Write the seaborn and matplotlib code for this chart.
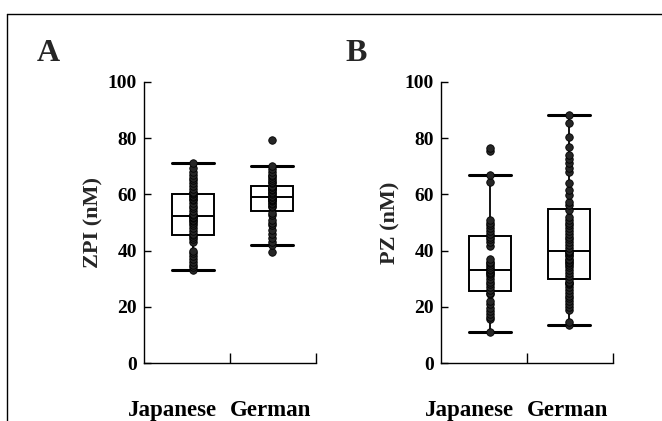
import numpy as np
import pandas as pd
import matplotlib
matplotlib.use("Agg")
import matplotlib.pyplot as plt
from matplotlib.lines import Line2D
import seaborn as sns

# Plasma levels per subject (nM)
groups = ["Japanese", "German"]

zpi_japanese = [33, 34, 35, 36, 37, 38, 39, 40, 43, 44, 45, 45.5, 46, 47, 48, 49,
                50, 50.5, 51, 51.5, 52, 52, 52.5, 53, 54, 55, 56, 57, 58, 58.5, 59,
                59.5, 60, 60.5, 61, 62, 63, 64, 65, 66, 67, 68, 69.5, 71]
zpi_german = [39.5, 42, 43, 44.5, 46, 47.5, 49, 50, 51, 52.5, 53.5, 55.5, 56, 56.5,
              57, 57.5, 58, 58, 58.5, 58.5, 59, 59, 59.5, 60, 60.5, 61, 61.5, 62, 62,
              62.5, 62.5, 63, 64, 64.5, 65, 66, 66.5, 67, 68, 69, 70, 79.5]

pz_japanese = [11, 15.5, 16.5, 17.5, 18.5, 19.5, 21, 22, 24.5, 25, 26, 27, 28, 29,
               30, 31, 31.5, 32, 32.5, 33, 33.5, 34, 35, 35.5, 36, 37, 41.5, 43, 44,
               45, 46, 47, 48, 49, 50, 51, 64.5, 66.8, 75.5, 76.5]
pz_german = [13.5, 14.5, 19, 20, 21, 22, 23, 24, 25, 26, 27, 28, 28.5, 29, 30, 31,
             32, 33, 34, 35, 35.5, 36, 36.5, 37, 38, 38.5, 39, 39.5, 40, 41, 42, 43,
             44, 45, 46, 47, 48, 49, 50, 51, 52, 54.5, 56.2, 57.3, 59.8, 61.6, 64,
             68, 69.5, 71, 72.5, 74, 77, 80.4, 85.4, 88.3]

panels = ["A", "B"]
ylabels = ["ZPI (nM)", "PZ (nM)"]
yticks = [0, 20, 40, 60, 80, 100]


def long_form(first, second):
    return pd.DataFrame({
        "group": [groups[0]] * len(first) + [groups[1]] * len(second),
        "value": list(first) + list(second),
    })


sns.set_theme(style="white")
plt.rcParams["font.family"] = ["Liberation Serif", "DejaVu Serif"]
plt.rcParams["font.weight"] = "bold"

fig = plt.figure(figsize=(6.62, 4.21), dpi=100)
W, H = 662, 421

# partial frame around the figure panel
fig.add_artist(Line2D([7 / W, 1.0], [1 - 14 / H, 1 - 14 / H], color="black", lw=1.0))
fig.add_artist(Line2D([7 / W, 7 / W], [0.0, 1 - 14 / H], color="black", lw=1.0))

frames = [long_form(zpi_japanese, zpi_german), long_form(pz_japanese, pz_german)]
lefts = [144, 441]
letter_x = [37, 345]

for df, left, label, ylab, lx in zip(frames, lefts, panels, ylabels, letter_x):
    ax = fig.add_axes([left / W, 58 / H, 172 / W, 281 / H])
    sns.boxplot(data=df, x="group", y="value", order=groups, ax=ax,
                width=0.53, showfliers=False, whis=1.5, color="white",
                linecolor="black", linewidth=1.4,
                medianprops=dict(color="black", lw=1.4),
                whiskerprops=dict(color="black", lw=1.3),
                capprops=dict(color="black", lw=2.2),
                capwidths=0.53)
    sns.stripplot(data=df, x="group", y="value", order=groups, ax=ax,
                  jitter=False, size=5.4, color="#262626",
                  edgecolor="black", linewidth=0.6, zorder=5)

    ax.set_xlim(-0.62, 1.56)
    ax.set_ylim(0, 100)
    ax.set_yticks(yticks)
    ax.set_yticklabels([str(t) for t in yticks], fontsize=14, fontweight="bold")
    ax.tick_params(axis="y", direction="in", length=5, width=1.0, pad=5,
                   left=True, colors="black")
    # group names sit below the axis, slightly off the box centres
    ax.set_xticks([-0.26, 0.99])
    ax.set_xticklabels(groups, fontsize=16.5, fontweight="bold")
    ax.tick_params(axis="x", length=0, pad=38, colors="black")
    for lbl in ax.get_xticklabels():
        lbl.set_verticalalignment("baseline")
    ax.set_xticks([0.47, 1.56], minor=True)
    ax.tick_params(axis="x", which="minor", direction="in", length=7, width=1.0,
                   bottom=True, colors="black")
    ax.set_xlabel("")
    ax.set_ylabel(ylab, fontsize=16, fontweight="bold", labelpad=3)
    for side in ["top", "right"]:
        ax.spines[side].set_visible(False)
    for side in ["left", "bottom"]:
        ax.spines[side].set_color("black")
        ax.spines[side].set_linewidth(1.0)
    ax.set_facecolor("white")

    fig.text(lx / W, 1 - 61 / H, label, fontsize=23, fontweight="bold",
             ha="left", va="baseline")

fig.savefig("out.png", dpi=100, facecolor="white")
